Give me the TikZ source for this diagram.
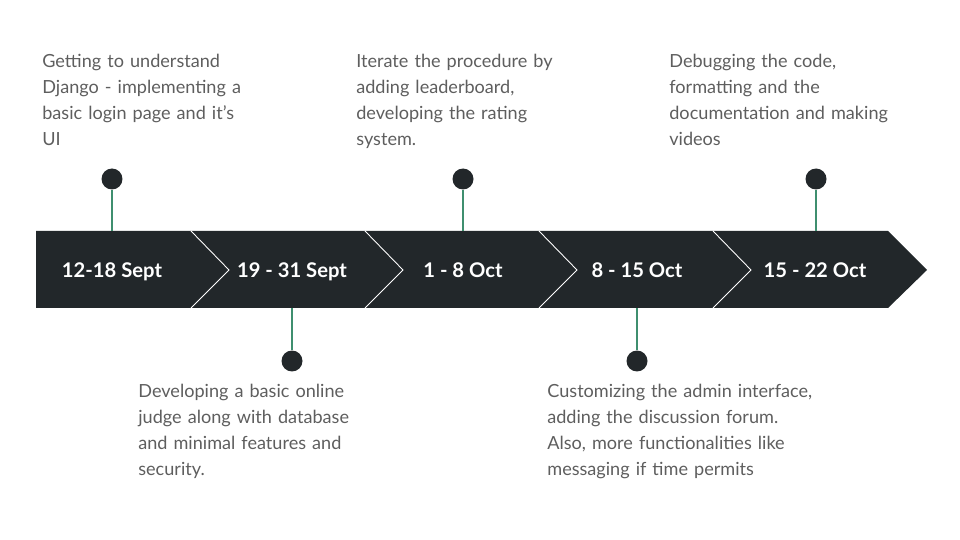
\documentclass[tikz,border=0pt]{standalone}
\usepackage{fontspec}
\setmainfont{Lato}
\usetikzlibrary{positioning}
\definecolor{bandgray}{HTML}{22272A}
\definecolor{notegray}{HTML}{5E5E5E}
\definecolor{stemgreen}{HTML}{3F8F6F}
\tikzset{
	band/.style={fill=bandgray},
	sep/.style={draw=white,line width=0.5pt},
	date/.style={text=white,font=\fontsize{11.5}{14}\selectfont\bfseries,anchor=base},
	dot/.style={circle,fill=bandgray,inner sep=0,minimum size=0.42cm},
	stem/.style={draw=stemgreen,line width=0.6pt},
	note/.style={text=notegray,font=\fontsize{10.3}{14.7}\selectfont,text width=5.8cm,align=left,inner sep=0,anchor=base west}
}

\begin{document}
\begin{tikzpicture}[x=0.02cm,y=-0.02cm]
	\useasboundingbox (0,0) rectangle (960,540);
	% arrow band with chevrons
	\fill[band] (36,231) -- (888,231) -- (927,270) -- (888,308) -- (36,308) -- cycle;
	\foreach \sx in {191,365,539,713}
		\draw[sep] (\sx,231) -- (\sx+38,270) -- (\sx,308);

	\node[date] (p1) at (112,278) {12-18 Sept};
	\node[date] (p2) at (292,278) {19 - 31 Sept};
	\node[date] (p3) at (463,278) {1 - 8 Oct};
	\node[date] (p4) at (637,278) {8 - 15 Oct};
	\node[date] (p5) at (815,278) {15 - 22 Oct};

	\node[dot] (d1) at (112,179) {};
	\node[dot] (d2) at (292,361) {};
	\node[dot] (d3) at (463,179) {};
	\node[dot] (d4) at (637,361) {};
	\node[dot] (d5) at (816,179) {};

	\coordinate (t1) at (112,231);
	\coordinate (t2) at (292,308);
	\coordinate (t3) at (463,231);
	\coordinate (t4) at (637,308);
	\coordinate (t5) at (816,231);
	\foreach \i in {1,...,5}
		\draw[stem] (d\i) -- (t\i);

	\node[note] (n1) at (42,68) {Getting to understand\\Django - implementing a\\basic login page and it’s\\UI};
	\node[note] (n3) at (356,68) {Iterate the procedure by\\adding leaderboard,\\developing the rating\\system.};
	\node[note] (n5) at (669,68) {Debugging the code,\\formatting and the\\documentation and making\\videos};
	\node[note] (n2) at (138,398) {Developing a basic online\\judge along with database\\and minimal features and\\security.};
	\node[note] (n4) at (547,398) {Customizing the admin interface,\\adding the discussion forum.\\Also, more functionalities like\\messaging if time permits};
\end{tikzpicture}
\end{document}
